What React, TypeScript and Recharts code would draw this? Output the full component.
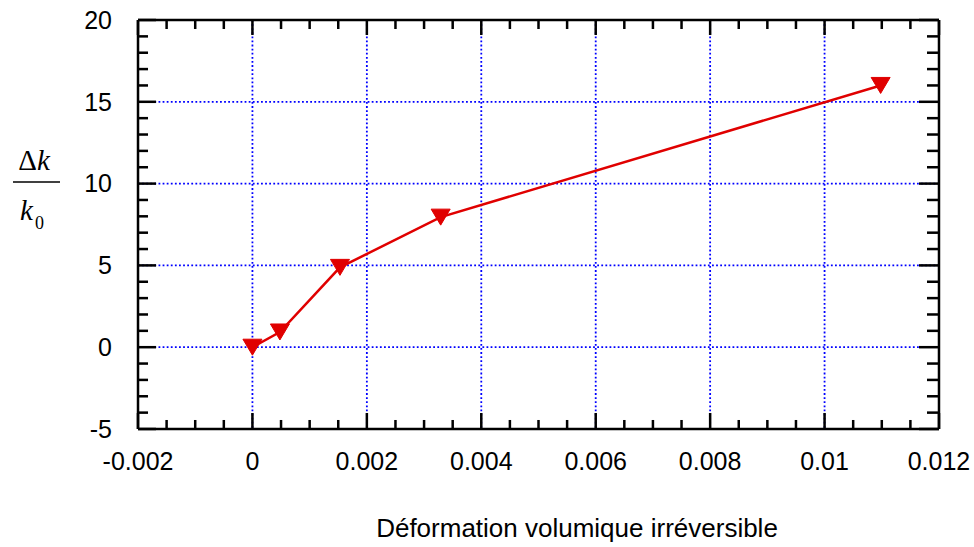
import React from 'react';
import { LineChart, Line, XAxis, YAxis, CartesianGrid } from 'recharts';

// Data
const strainValues = [0, 0.00048, 0.00153, 0.00329, 0.01098];
const dkValues = [0, 0.93, 4.88, 7.95, 16.0];

// Axis ticks
const xMajorTicks = [-0.002, 0, 0.002, 0.004, 0.006, 0.008, 0.01, 0.012];
const xTickLabels = ['-0.002', '0', '0.002', '0.004', '0.006', '0.008', '0.01', '0.012'];
const xMinorTicks = [
  -0.0015, -0.001, -0.0005, 0.0005, 0.001, 0.0015, 0.0025, 0.003, 0.0035,
  0.0045, 0.005, 0.0055, 0.0065, 0.007, 0.0075, 0.0085, 0.009, 0.0095,
  0.0105, 0.011, 0.0115,
];
const yMajorTicks = [-5, 0, 5, 10, 15, 20];
const yTickLabels = ['-5', '0', '5', '10', '15', '20'];
const yMinorTicks = [-4, -3, -2, -1, 1, 2, 3, 4, 6, 7, 8, 9, 11, 12, 13, 14, 16, 17, 18, 19];

const xAxisTitle = 'Déformation volumique irréversible';
const yTitleTop = 'Δk';
const yTitleBottom = 'k';
const yTitleSub = '0';

const data = strainValues.map((x, i) => ({ x, y: dkValues[i] }));
const yAllTicks = [...yMajorTicks, ...yMinorTicks].sort((a, b) => a - b);

const X_DOMAIN: [number, number] = [-0.002, 0.012];
const Y_DOMAIN: [number, number] = [-5, 20];

const W = 974;
const H = 547;
const MT = 20;
const MR = 35;
const MB = 118;
const ML = 138;
const PLOT_W = W - ML - MR;
const PLOT_RIGHT = W - MR;
const SANS = '"Liberation Sans", Arial, Helvetica, sans-serif';
const SERIF = '"Liberation Serif", "Times New Roman", serif';
const RED = '#e00000';
const TINY = 0.01;
const TICK_W = 2.5;

// same linear mapping as the chart's x axis (domain -> plot width)
const xPos = (v: number) => ML + ((v - X_DOMAIN[0]) / (X_DOMAIN[1] - X_DOMAIN[0])) * PLOT_W;

const XLabel = (props: any) => {
  const x = Number(props.x);
  const y = Number(props.y);
  const idx = xMajorTicks.indexOf(props.payload?.value);
  if (idx < 0) return <g />;
  return (
    <text x={x} y={y + 23} dy="0.71em" textAnchor="middle" fontFamily={SANS} fontSize={25} fill="#000">
      {xTickLabels[idx]}
    </text>
  );
};

const XTickMarks = ({ y, dir, majorLen, minorLen }: { y: number; dir: 1 | -1; majorLen: number; minorLen: number }) => (
  <g>
    {xMajorTicks.map((v) => (
      <rect
        key={`M${v}`}
        x={xPos(v) - TICK_W / 2}
        y={dir > 0 ? y : y - majorLen}
        width={TICK_W}
        height={majorLen}
        fill="#000"
      />
    ))}
    {xMinorTicks.map((v) => (
      <rect
        key={`m${v}`}
        x={xPos(v) - TICK_W / 2}
        y={dir > 0 ? y : y - minorLen}
        width={TICK_W}
        height={minorLen}
        fill="#000"
      />
    ))}
  </g>
);

const YTick = (props: any) => {
  const x = Number(props.x);
  const y = Number(props.y);
  const v = props.payload?.value;
  const idx = yMajorTicks.indexOf(v);
  const major = idx >= 0;
  const ll = major ? 18 : 10;
  const lr = major ? 20 : 12;
  return (
    <g>
      <rect x={x} y={y - TICK_W / 2} width={ll} height={TICK_W} fill="#000" />
      <rect x={PLOT_RIGHT - lr} y={y - TICK_W / 2} width={lr} height={TICK_W} fill="#000" />
      {v === Y_DOMAIN[0] && <XTickMarks y={y} dir={-1} majorLen={16} minorLen={9} />}
      {v === Y_DOMAIN[1] && <XTickMarks y={y} dir={1} majorLen={15} minorLen={9} />}
      {major && (
        <text x={x - 26} y={y} dy="0.355em" textAnchor="end" fontFamily={SANS} fontSize={25} fill="#000">
          {yTickLabels[idx]}
        </text>
      )}
    </g>
  );
};

const renderTriangle = (props: any) => {
  const { cx, cy, index } = props;
  if (cx == null || cy == null) return <g key={`t-${index}`} />;
  const w = 9.5;
  const h = 8;
  return (
    <polygon
      key={`t-${index}`}
      points={`${cx - w},${cy - h} ${cx + w},${cy - h} ${cx},${cy + h}`}
      fill={RED}
      stroke={RED}
      strokeWidth={1}
    />
  );
};

export default function App() {
  const tl = { stroke: '#000', strokeWidth: 2.5 };
  return (
    <div style={{ position: 'absolute', left: 0, top: 0, width: W, height: H, background: '#fff' }}>
      <LineChart width={W} height={H} data={data} margin={{ top: MT, right: MR, bottom: MB, left: ML }}>
        <CartesianGrid
          xAxisId="main"
          yAxisId="main"
          stroke="#0000ff"
          strokeWidth={1.8}
          strokeDasharray="1.8 2.3"
          verticalValues={xMajorTicks}
          horizontalValues={yMajorTicks}
        />
        <XAxis
          xAxisId="main"
          dataKey="x"
          type="number"
          allowDataOverflow
          domain={X_DOMAIN}
          ticks={xMajorTicks}
          interval={0}
          height={TINY}
          tickLine={false}
          tickSize={0}
          tickMargin={0}
          axisLine={tl}
          tick={XLabel}
        />
        <YAxis
          yAxisId="main"
          type="number"
          allowDataOverflow
          domain={Y_DOMAIN}
          ticks={yAllTicks}
          interval={0}
          width={TINY}
          tickLine={false}
          tickSize={0}
          tickMargin={0}
          axisLine={tl}
          tick={YTick}
        />
        <XAxis
          xAxisId="top"
          dataKey="x"
          orientation="top"
          type="number"
          allowDataOverflow
          domain={X_DOMAIN}
          height={TINY}
          tick={false}
          tickLine={false}
          axisLine={tl}
        />
        <YAxis
          yAxisId="right"
          orientation="right"
          type="number"
          allowDataOverflow
          domain={Y_DOMAIN}
          width={TINY}
          tick={false}
          tickLine={false}
          axisLine={tl}
        />
        <Line
          xAxisId="main"
          yAxisId="main"
          type="linear"
          dataKey="y"
          stroke={RED}
          strokeWidth={2.5}
          dot={renderTriangle}
          activeDot={false}
          isAnimationActive={false}
        />
      </LineChart>
      <svg
        width={W}
        height={H}
        style={{ position: 'absolute', left: 0, top: 0, pointerEvents: 'none' }}
      >
        <text x={34} y={170} textAnchor="middle" fontFamily={SERIF} fontSize={29} fill="#000">
          <tspan>{yTitleTop.charAt(0)}</tspan>
          <tspan fontStyle="italic">{yTitleTop.slice(1)}</tspan>
        </text>
        <line x1={13} x2={60} y1={182} y2={182} stroke="#000" strokeWidth={1.5} />
        <text x={20} y={220} fontFamily={SERIF} fontSize={29} fill="#000" fontStyle="italic">
          {yTitleBottom}
        </text>
        <text x={35} y={229} fontFamily={SERIF} fontSize={18} fill="#000">
          {yTitleSub}
        </text>
        <text x={577} y={537} textAnchor="middle" fontFamily={SANS} fontSize={26} fill="#000">
          {xAxisTitle}
        </text>
      </svg>
    </div>
  );
}
